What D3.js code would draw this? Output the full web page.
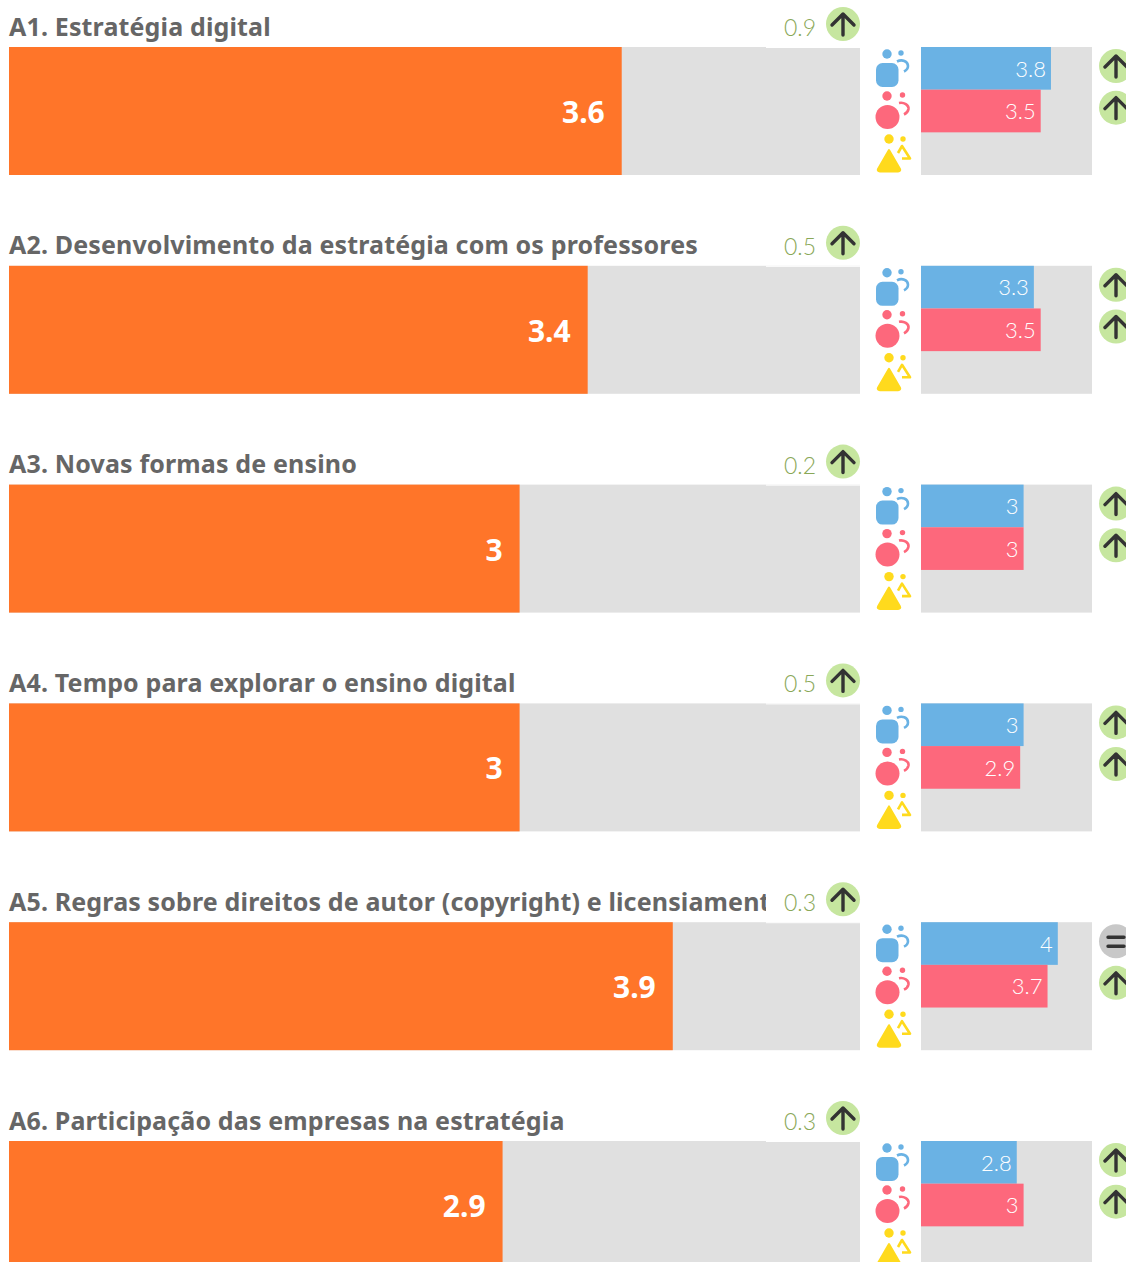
<!DOCTYPE html>
<html>
<head>
<meta charset="utf-8">
<script src="https://d3js.org/d3.v7.min.js"></script>
<style>
  html, body { margin: 0; padding: 0; background: #fff; overflow: hidden; }
  svg { display: block; }
  .title { font-family: "Noto Sans", sans-serif; font-weight: 700; font-size: 25px; letter-spacing: 0.15px; fill: #666; }
  .light { font-family: "Lato", sans-serif; font-weight: 300; }
</style>
</head>
<body>
<div id="chart"></div>
<script>
// Chart values
const titles = [
    "A1. Estratégia digital",
    "A2. Desenvolvimento da estratégia com os professores",
    "A3. Novas formas de ensino",
    "A4. Tempo para explorar o ensino digital",
    "A5. Regras sobre direitos de autor (copyright) e licensiamento",
    "A6. Participação das empresas na estratégia"
];
const overall = [3.6, 3.4, 3, 3, 3.9, 2.9];
const change = [0.9, 0.5, 0.2, 0.5, 0.3, 0.3];
const blueValues = [3.8, 3.3, 3, 3, 4, 2.8];
const pinkValues = [3.5, 3.5, 3, 2.9, 3.7, 3];
const blueTrend = ["up", "up", "up", "up", "equal", "up"];
const pinkTrend = ["up", "up", "up", "up", "up", "up"];

const width = 1126,
      height = 1262,
      rowHeight = 128,
      rowStep = 218.8,
      firstRow = 47;

const blue = "#6ab2e4", pink = "#fd687c", yellow = "#ffda1d",
      orange = "#ff7529", track = "#e0e0e0";

let svg = d3.select("#chart")
    .append("svg")
    .attr("width", width)
    .attr("height", height);

// Title text gets cut off before the change label
svg.append("clipPath").attr("id", "titleClip")
    .append("rect").attr("x", 0).attr("y", -60).attr("width", 766).attr("height", 60);

let rowY = d3.scaleLinear().domain([0, 1]).range([firstRow, firstRow + rowStep]);
let x = d3.scaleLinear().domain([0, 5]).range([9, 860]);
let xSmall = d3.scaleLinear().domain([0, 5]).range([921, 1092]);
let ySmall = d3.scaleBand().domain(["blue", "pink", "yellow"]).range([0, rowHeight]);

// Up arrow or equal sign in a round badge
function badge(g, cx, cy, kind) {
    let b = g.append("g").attr("transform", `translate(${cx},${cy})`);
    b.append("circle").attr("r", 17).attr("fill", kind === "equal" ? "#c8c8c8" : "#c6e69f");
    if (kind === "equal") {
        b.append("path").attr("d", "M-8,-4H8M-8,5H8");
    } else {
        b.append("path").attr("d", "M0,11V-10M-11,1L0,-10L11,1");
    }
    b.select("path")
        .attr("fill", "none")
        .attr("stroke", "#333")
        .attr("stroke-width", 3.4)
        .attr("stroke-linecap", "round")
        .attr("stroke-linejoin", "round");
}

// Small people icons in front of the small bars
function icons(g) {
    let a = g.append("g").attr("fill", blue);
    a.append("circle").attr("cx", 887).attr("cy", 7).attr("r", 4.7);
    a.append("circle").attr("cx", 901).attr("cy", 6).attr("r", 2.7);
    a.append("rect").attr("x", 876).attr("y", 16).attr("width", 22.5).attr("height", 24).attr("rx", 6.5);
    a.append("path").attr("d", "M897,14.5C902,12 908,14 908,19C908,22 906,23.5 904,24.5")
        .attr("fill", "none").attr("stroke", blue).attr("stroke-width", 2.6);

    let b = g.append("g").attr("fill", pink);
    b.append("circle").attr("cx", 887).attr("cy", 49).attr("r", 4.7);
    b.append("circle").attr("cx", 902.5).attr("cy", 48).attr("r", 2.7);
    b.append("circle").attr("cx", 887.5).attr("cy", 70).attr("r", 12);
    b.append("path").attr("d", "M899,56C904,55 909,58 908.5,62C908,65 906,66.5 904,67.5")
        .attr("fill", "none").attr("stroke", pink).attr("stroke-width", 2.6);

    let c = g.append("g").attr("fill", yellow);
    c.append("circle").attr("cx", 889).attr("cy", 92).attr("r", 4.7);
    c.append("circle").attr("cx", 903).attr("cy", 92).attr("r", 2.7);
    c.append("path").attr("d", "M889,103L900,122Q901,124 898,124.5H880Q877,124 878,122Z")
        .attr("stroke", yellow).attr("stroke-width", 2).attr("stroke-linejoin", "round");
    c.append("path").attr("d", "M898,106L902,99L910,111.5H902")
        .attr("fill", "none").attr("stroke", yellow).attr("stroke-width", 2.6).attr("stroke-linejoin", "round");
}

let row = svg.selectAll(".row")
    .data(titles)
    .join("g")
    .attr("class", "row")
    .attr("transform", (d, i) => `translate(0,${rowY(i)})`);

// Main bar
row.append("rect")
    .attr("x", x(0)).attr("y", 0)
    .attr("width", x(5) - x(0)).attr("height", rowHeight)
    .attr("fill", track);

row.append("rect")
    .attr("x", 766).attr("y", 0)
    .attr("width", x(5) - 766).attr("height", 1)
    .attr("fill", "#fff");

row.append("rect")
    .attr("x", x(0)).attr("y", 0)
    .attr("width", (d, i) => x(overall[i]) - x(0)).attr("height", rowHeight)
    .attr("fill", orange);

row.append("text")
    .text((d, i) => overall[i])
    .attr("x", (d, i) => x(overall[i]) - 17)
    .attr("y", 76)
    .attr("text-anchor", "end")
    .attr("fill", "#fff")
    .style("font-family", '"Noto Sans", sans-serif')
    .style("font-weight", 700)
    .style("font-size", "30px");

// Title and change
row.append("g").attr("clip-path", "url(#titleClip)")
    .append("text")
    .attr("class", "title")
    .text(d => d)
    .attr("x", 9)
    .attr("y", -11.5);

row.append("text")
    .attr("class", "light")
    .text((d, i) => change[i])
    .attr("x", 816)
    .attr("y", -11)
    .attr("text-anchor", "end")
    .attr("fill", "#8aa858")
    .style("font-size", "23px");

row.each(function (d, i) {
    let g = d3.select(this);
    badge(g, 843, -23, "up");
    icons(g);
    badge(g, 1116, ySmall("blue") + 19, blueTrend[i]);
    badge(g, 1116, ySmall("pink") + 18, pinkTrend[i]);
});

// Small bars
row.append("rect")
    .attr("x", xSmall(0)).attr("y", 0)
    .attr("width", xSmall(5) - xSmall(0)).attr("height", rowHeight)
    .attr("fill", track);

[["blue", blueValues, blue], ["pink", pinkValues, pink]].forEach(([key, values, color]) => {
    row.append("rect")
        .attr("x", xSmall(0))
        .attr("y", ySmall(key))
        .attr("width", (d, i) => xSmall(values[i]) - xSmall(0))
        .attr("height", ySmall.bandwidth())
        .attr("fill", color);

    row.append("text")
        .attr("class", "light")
        .text((d, i) => values[i])
        .attr("x", (d, i) => xSmall(values[i]) - 5)
        .attr("y", ySmall(key) + 29.5)
        .attr("text-anchor", "end")
        .attr("fill", "#fff")
        .style("font-size", "22px");
});
</script>
</body>
</html>
